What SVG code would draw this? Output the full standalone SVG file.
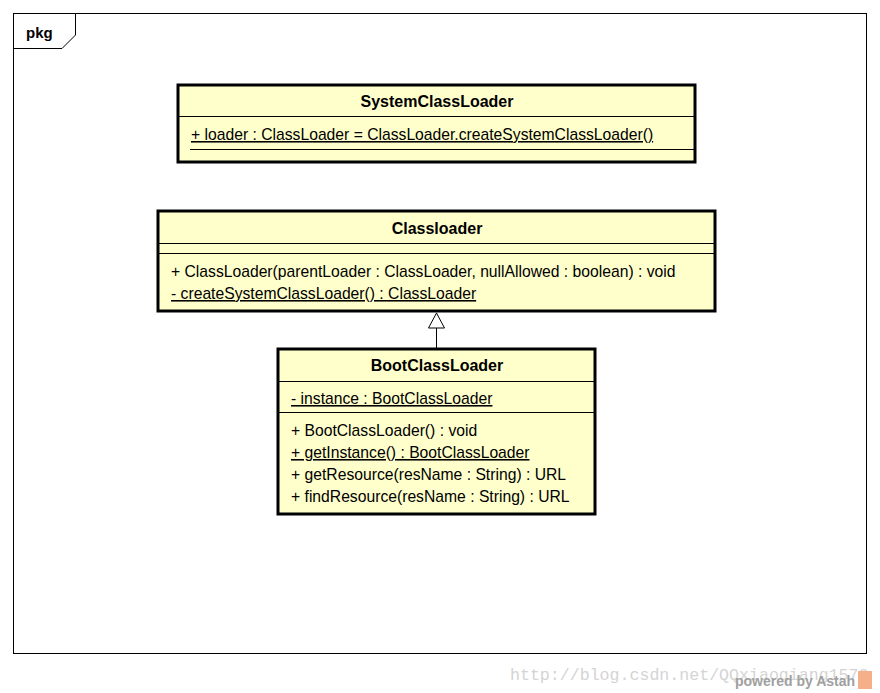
<svg xmlns="http://www.w3.org/2000/svg" width="880" height="693" viewBox="0 0 880 693">
<style>
.frame{fill:#fff;stroke:#000;stroke-width:1}
.cls{fill:#FFFFCC;stroke:#000;stroke-width:3}
.sep{stroke:#000;stroke-width:1;fill:none}
.t{font-family:"Liberation Sans",Arial,sans-serif;font-size:15.7px;fill:#000}
.b{font-weight:bold;text-anchor:middle;font-size:16px}
.u{text-decoration:underline}
.wm{font-family:"Liberation Mono","DejaVu Sans Mono",monospace;font-size:16.6px;fill:#d4d4d4}
.pw{font-family:"Liberation Sans",Arial,sans-serif;font-size:14px;font-weight:bold;fill:#a0a0a0}
</style>
<rect width="880" height="693" fill="#fff"/>
<g id="pkg">
<rect class="frame" x="13.5" y="13.5" width="853" height="640"/>
<path class="sep" d="M13.5 48.5 H62 L75.5 35 V13.5"/>
<text class="t" x="26" y="38" style="font-weight:bold;font-size:15px">pkg</text>
</g>
<g id="SystemClassLoader">
<rect class="cls" x="178" y="85" width="517" height="77"/>
<line class="sep" x1="179" y1="116.5" x2="694" y2="116.5"/>
<line class="sep" x1="190" y1="149.5" x2="694" y2="149.5"/>
<text class="t b" x="437" y="107">SystemClassLoader</text>
<text class="t u" x="191" y="140">+ loader : ClassLoader = ClassLoader.createSystemClassLoader()</text>
</g>
<g id="Classloader">
<rect class="cls" x="158" y="211" width="557" height="100"/>
<line class="sep" x1="159" y1="243.5" x2="714" y2="243.5"/>
<line class="sep" x1="159" y1="253.5" x2="714" y2="253.5"/>
<text class="t b" x="437" y="234">Classloader</text>
<text class="t" x="171" y="277">+ ClassLoader(parentLoader : ClassLoader, nullAllowed : boolean) : void</text>
<text class="t u" x="171" y="299">- createSystemClassLoader() : ClassLoader</text>
</g>
<g id="BootClassLoader">
<rect class="cls" x="278" y="349" width="317" height="165"/>
<line class="sep" x1="279" y1="381.5" x2="594" y2="381.5"/>
<line class="sep" x1="279" y1="412.5" x2="594" y2="412.5"/>
<text class="t b" x="437" y="371">BootClassLoader</text>
<text class="t u" x="291" y="404">- instance : BootClassLoader</text>
<text class="t" x="291" y="436">+ BootClassLoader() : void</text>
<text class="t u" x="291" y="458">+ getInstance() : BootClassLoader</text>
<text class="t" x="291" y="480">+ getResource(resName : String) : URL</text>
<text class="t" x="291" y="502">+ findResource(resName : String) : URL</text>
</g>
<g id="connectors">
<line class="sep" x1="436.5" y1="328" x2="436.5" y2="348"/>
<path d="M436.5 313 L428.5 328 H444.5 Z" fill="#fff" stroke="#000" stroke-width="1"/>
</g>
<g id="watermark">
<text class="wm" x="510" y="680">http://blog.csdn.net/QQxiaoqiang1573</text>
<text class="pw" x="735" y="686">powered by Astah</text>
<rect x="858" y="671" width="14" height="18" fill="#f5b08a"/>
</g>
</svg>
